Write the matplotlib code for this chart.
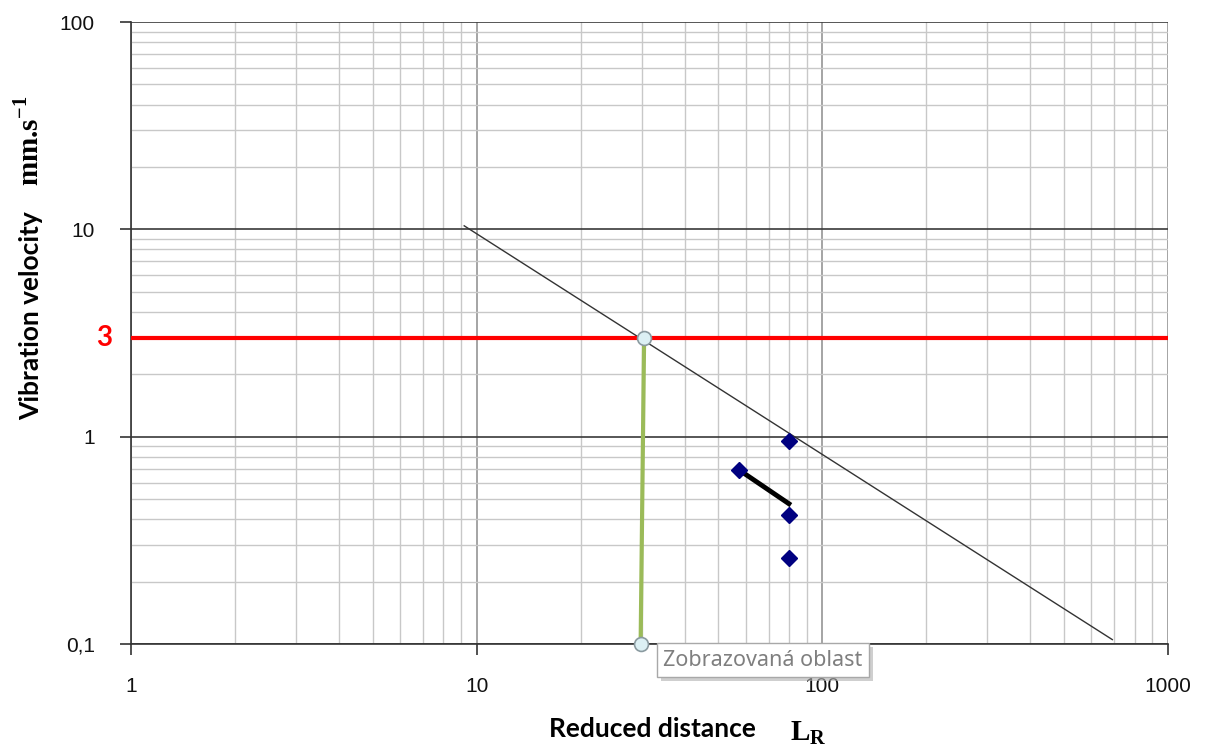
import numpy as np
import matplotlib
matplotlib.use('Agg')
import matplotlib.pyplot as plt
import matplotlib.patheffects as pe
from matplotlib.ticker import LogLocator, FixedLocator, NullFormatter
import matplotlib.transforms as mtransforms

plt.rcParams['mathtext.fontset'] = 'custom'
plt.rcParams['mathtext.rm'] = 'Liberation Serif:bold'
plt.rcParams['mathtext.bf'] = 'Liberation Serif:bold'

# attenuation line (reduced distance vs vibration velocity)
trend_x = [9.2, 690]
trend_y = [10.4, 0.105]

# limit value
limit_v = 3

# reading of the limit distance
read_x = [30.5, 29.8]
read_y = [3, 0.1]

# measured points
meas_x = [57.5, 80, 80, 80]
meas_y = [0.69, 0.95, 0.42, 0.26]

# short regression segment
seg_x = [57.5, 80]
seg_y = [0.69, 0.475]

x_ticks = [1, 10, 100, 1000]
x_labels = ['1', '10', '100', '1000']
y_ticks = [0.1, 1, 10, 100]
y_labels = ['0,1', '1', '10', '100']

fig = plt.figure(figsize=(12.08, 7.49), dpi=100)
ax = fig.add_axes([0.1085, 0.1402, 0.8584, 0.8304])
ax.set_xscale('log')
ax.set_yscale('log')
ax.set_xlim(1, 1000)
ax.set_ylim(0.1, 100)

ax.xaxis.set_major_locator(FixedLocator(x_ticks))
ax.yaxis.set_major_locator(FixedLocator(y_ticks))
ax.set_xticklabels(x_labels)
ax.set_yticklabels(y_labels)
ax.xaxis.set_minor_locator(LogLocator(base=10, subs=np.arange(2, 10)))
ax.yaxis.set_minor_locator(LogLocator(base=10, subs=np.arange(2, 10)))
ax.xaxis.set_minor_formatter(NullFormatter())
ax.yaxis.set_minor_formatter(NullFormatter())

ax.grid(which='minor', color='#c8c8c8', linewidth=1.0)
ax.xaxis.grid(which='major', color='#8c8c8c', linewidth=1.1)
ax.yaxis.grid(which='major', color='#3a3a3a', linewidth=1.2)
ax.set_axisbelow(True)

for s in ['top', 'right']:
    ax.spines[s].set_visible(False)
for s in ['left', 'bottom']:
    ax.spines[s].set_color('#333333')
    ax.spines[s].set_linewidth(1.2)

ax.tick_params(which='major', direction='out', length=8, width=1.2, color='#333333',
               labelsize=15, labelcolor='#111111')
ax.tick_params(axis='x', which='major', pad=16)
ax.tick_params(axis='y', which='major', pad=18)
ax.tick_params(which='minor', length=0)
for lab in ax.get_xticklabels() + ax.get_yticklabels():
    lab.set_family('Liberation Sans')

# lines and markers
ax.plot(trend_x, trend_y, color='#333333', linewidth=1.0, zorder=3)
ax.axhline(limit_v, color='#ff0000', linewidth=3, zorder=3)
ax.plot(read_x, read_y, color='#9bbb59', linewidth=3, zorder=4)
ax.plot(read_x, read_y, linestyle='none', marker='o', markersize=10,
        markerfacecolor='#dcf0f4', markeredgecolor='#8a9aa0', markeredgewidth=1.2,
        zorder=6, clip_on=False)
ax.plot(seg_x, seg_y, color='black', linewidth=3.5, zorder=4)
ax.plot(meas_x, meas_y, linestyle='none', marker='D', markersize=8,
        color='#000080', zorder=5)

# red limit label on the y axis
trans = mtransforms.blended_transform_factory(ax.transAxes, ax.transData)
ax.text(-0.018, limit_v, '3', transform=trans, ha='right', va='center',
        color='#ff0000', fontsize=20, fontweight='bold', family='Lato')

# tooltip box with a soft shadow
tip = ax.text(0.513, -0.026, 'Zobrazovaná oblast', transform=ax.transAxes,
              ha='left', va='center', fontsize=15.5, family='Noto Sans',
              color='#7f7f7f', zorder=10,
              bbox=dict(boxstyle='square,pad=0.3', facecolor='white', edgecolor='#a8a8a8',
                        linewidth=1))
tip.get_bbox_patch().set_path_effects([
    pe.SimplePatchShadow(offset=(3, -3), shadow_rgbFace='#b0b0b0', alpha=0.6),
    pe.Normal()])

# axis titles
fig.text(0.026, 0.579, 'Vibration velocity', rotation=90, ha='center', va='center',
         fontsize=19, fontweight='bold', family='Lato')
fig.text(0.024, 0.812, r'mm.s$^{-1}$', rotation=90, ha='center', va='center',
         fontsize=21, fontweight='bold', family='Liberation Serif')
fig.text(0.540, 0.027, 'Reduced distance', ha='center', va='center',
         fontsize=19, fontweight='bold', family='Lato')
fig.text(0.669, 0.021, r'$\mathrm{L}_{\mathrm{R}}$', ha='center', va='center', fontsize=21)

fig.savefig('out.png', dpi=100)
